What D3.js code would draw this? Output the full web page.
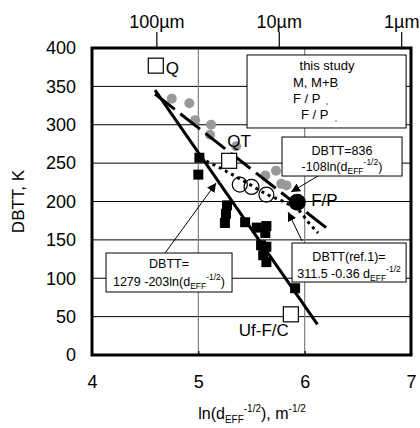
<!DOCTYPE html>
<html><head><meta charset="utf-8">
<script src="https://cdn.jsdelivr.net/npm/d3@7"></script>
<style>
body{margin:0;background:#fff;}
text{font-family:"Liberation Sans",Arial,sans-serif;fill:#000;}
</style></head>
<body><svg id="c" width="420" height="428"></svg>
<script>
// ---- data ----
const xTicks=[4,5,6,7];
const yTicks=[0,50,100,150,200,250,300,350,400];
const topTickLabels=["100\u00b5m","10\u00b5m","1\u00b5m"];
const topTickDiamM=[100e-6,10e-6,1e-6];
// this study M, M+B (gray circles)
const grayX=[4.75,4.915,4.97,5.12,5.11,5.355,5.63,5.73,5.78,5.83];
const grayY=[334,328,306,300,287,272,234,240,223,221];
// black squares
const sqX=[5.01,5.00,5.27,5.26,5.25,5.44,5.55,5.64,5.63,5.59,5.64,5.61,5.64,5.91];
const sqY=[257,235,195,184,172,173,166,168,159,143,141,130,121,87];
// open circles (F/P)
const openX=[5.39,5.50,5.64];
const openY=[222,219,209];
// F/P large black circle
const fpX=[5.93], fpY=[199];
// open squares with labels
const refNames=["Q","QT","Uf-F/C"];
const refX=[4.60,5.29,5.87];
const refY=[377,253,53];
// fitted line 1279-203ln (solid) endpoints
const solidX=[4.593,6.12], solidY=[345,40];
// fitted line 836-108ln (dashed) endpoints
const dashX=[4.593,6.22], dashY=[340,164];
// ref.1 curve (dotted)
const dotX=[5.016,5.2,5.486,5.656,5.80,5.90,5.957,6.03,6.126];
const dotY=[256.7,244,222,208.5,200,192,186.7,173.7,159];

const svg=d3.select("#c");
const x=d3.scaleLinear().domain([4,7]).range([92,411]);
const y=d3.scaleLinear().domain([0,400]).range([355,48]);

// gridlines
svg.append("g").selectAll("line").data(yTicks.filter(v=>v>0&&v<400)).join("line")
  .attr("x1",x(4)).attr("x2",x(7)).attr("y1",d=>y(d)).attr("y2",d=>y(d))
  .attr("stroke","#000").attr("stroke-width",1);
svg.append("g").selectAll("line").data([5,6]).join("line")
  .attr("x1",d=>x(d)).attr("x2",d=>x(d)).attr("y1",y(0)).attr("y2",y(400))
  .attr("stroke","#808080").attr("stroke-width",1.2);

// axes
const ax=svg.append("g").attr("transform",`translate(0,${y(0)})`)
  .call(d3.axisBottom(x).tickValues(xTicks).tickFormat(d3.format("d")).tickSize(-4).tickPadding(20));
const ay=svg.append("g").attr("transform",`translate(${x(4)},0)`)
  .call(d3.axisLeft(y).tickValues(yTicks).tickSize(0).tickPadding(16));
const topPos=topTickDiamM.map(d=>Math.log(Math.pow(d,-0.5)));
const at=svg.append("g").attr("transform",`translate(0,${y(400)})`)
  .call(d3.axisTop(x).tickValues(topPos).tickFormat((d,i)=>topTickLabels[i]).tickSize(16).tickPadding(4));
[ax,ay,at].forEach(g=>{
  g.select(".domain").remove();
  g.selectAll("text").attr("font-size",18).attr("font-family","Liberation Sans").attr("fill","#000");
  g.selectAll("line").attr("stroke","#000").attr("stroke-width",1.2);
});

// frame
svg.append("rect").attr("x",x(4)).attr("y",y(400)).attr("width",x(7)-x(4)).attr("height",y(0)-y(400))
  .attr("fill","none").attr("stroke","#000").attr("stroke-width",3);

// axis titles
svg.append("text").attr("transform",`translate(24,${(y(0)+y(400))/2}) rotate(-90)`)
  .attr("text-anchor","middle").attr("font-size",17).text("DBTT, K");
const xt=svg.append("text").attr("x",252).attr("y",419).attr("text-anchor","middle").attr("font-size",16);
xt.append("tspan").text("ln(d");
xt.append("tspan").attr("font-size",10).attr("dy",4).text("EFF");
xt.append("tspan").attr("font-size",10).attr("dy",-11).text("-1/2");
xt.append("tspan").attr("dy",7).text("), m");
xt.append("tspan").attr("font-size",10).attr("dy",-7).text("-1/2");

// gray circles
svg.append("g").selectAll("circle").data(grayX).join("circle")
  .attr("cx",d=>x(d)).attr("cy",(d,i)=>y(grayY[i])).attr("r",5).attr("fill","#999");

// lines
const line=d3.line().x(d=>x(d[0])).y(d=>y(d[1]));
svg.append("path").attr("d",line(solidX.map((d,i)=>[d,solidY[i]])))
  .attr("stroke","#000").attr("stroke-width",3).attr("fill","none");
svg.append("path").attr("d",line(dashX.map((d,i)=>[d,dashY[i]])))
  .attr("stroke","#000").attr("stroke-width",3).attr("fill","none").attr("stroke-dasharray","25,7");
const curve=d3.line().x(d=>x(d[0])).y(d=>y(d[1])).curve(d3.curveMonotoneX);
svg.append("path").attr("d",curve(dotX.map((d,i)=>[d,dotY[i]])))
  .attr("stroke","#000").attr("stroke-width",3).attr("fill","none").attr("stroke-dasharray","3,4");

// squares
svg.append("g").selectAll("rect").data(sqX).join("rect")
  .attr("x",d=>x(d)-5).attr("y",(d,i)=>y(sqY[i])-5).attr("width",10).attr("height",10).attr("fill","#000");
// open circles
svg.append("g").selectAll("circle").data(openX).join("circle")
  .attr("cx",d=>x(d)).attr("cy",(d,i)=>y(openY[i])).attr("r",7.5).attr("fill","none").attr("stroke","#000").attr("stroke-width",1.2);
// F/P
svg.append("g").selectAll("circle").data(fpX).join("circle")
  .attr("cx",d=>x(d)).attr("cy",(d,i)=>y(fpY[i])).attr("r",8.5).attr("fill","#000");
// open squares
svg.append("g").selectAll("rect").data(refX).join("rect")
  .attr("x",d=>x(d)-7.5).attr("y",(d,i)=>y(refY[i])-7.5).attr("width",15).attr("height",15)
  .attr("fill","#fff").attr("stroke","#000").attr("stroke-width",1.2);
// labels
const labOff=[[10,8],[-2,-14],[-52,22]];
svg.append("g").selectAll("text").data(refNames).join("text")
  .attr("x",(d,i)=>x(refX[i])+labOff[i][0]).attr("y",(d,i)=>y(refY[i])+labOff[i][1])
  .attr("font-size",17).text(d=>d);
svg.append("text").attr("x",x(fpX[0])+14).attr("y",y(fpY[0])+4).attr("font-size",17).text("F/P");

// arrows
const defs=svg.append("defs");
defs.append("marker").attr("id","ah").attr("viewBox","0 0 10 10").attr("refX",10).attr("refY",5)
  .attr("markerWidth",9).attr("markerHeight",9).attr("markerUnits","userSpaceOnUse").attr("orient","auto")
  .append("path").attr("d","M0,0L10,5L0,10z").attr("fill","#000");
const arrows=[[4.687,132.9,5.167,224.1],[6.126,233.2,5.872,212.4],[5.976,148.5,5.844,186.3]];
svg.append("g").selectAll("line").data(arrows).join("line")
  .attr("x1",d=>x(d[0])).attr("y1",d=>y(d[1])).attr("x2",d=>x(d[2])).attr("y2",d=>y(d[3]))
  .attr("stroke","#000").attr("stroke-width",1).attr("marker-end","url(#ah)");

// boxes
function box(x0,y0,x1,y1){
  return svg.append("rect").attr("x",x(x0)).attr("y",y(y0)).attr("width",x(x1)-x(x0)).attr("height",y(y1)-y(y0))
   .attr("fill","#fff").attr("stroke","#000").attr("stroke-width",1);
}
// legend
box(5.458,390.9,6.954,295.8);
const lg=svg.append("g").attr("font-size",13);
lg.append("text").attr("x",327).attr("y",70).attr("text-anchor","middle").attr("font-size",13).text("this study");
lg.append("text").attr("x",293).attr("y",87).attr("font-size",13).text("M, M+B");
lg.append("text").attr("x",293).attr("y",103).attr("font-size",13).text("F / P");
lg.append("text").attr("x",301).attr("y",119).attr("font-size",13).text("F / P");
lg.append("circle").attr("cx",338).attr("cy",89).attr("r",0.8).attr("fill","#999");
lg.append("circle").attr("cx",327).attr("cy",104).attr("r",0.8).attr("fill","#555");
lg.append("circle").attr("cx",336).attr("cy",121).attr("r",0.8).attr("fill","#555");

function subsup(t,cx,cy,pre,post,sup){
  const el=svg.append("text").attr("x",cx).attr("y",cy).attr("text-anchor","middle").attr("font-size",12.5);
  el.append("tspan").text(pre);
  el.append("tspan").attr("font-size",8.5).attr("dy",3).text("EFF");
  el.append("tspan").attr("font-size",8.5).attr("dy",-9).text(sup);
  if(post) el.append("tspan").attr("dy",6).text(post);
  return el;
}
// box2
box(5.787,284,6.916,233.2);
svg.append("text").attr("x",342).attr("y",155).attr("text-anchor","middle").attr("font-size",12.5).text("DBTT=836");
subsup(null,342,171,"-108ln(d",")","-1/2");
// box3
box(5.881,145.9,6.954,95.1);
svg.append("text").attr("x",349).attr("y",261).attr("text-anchor","middle").attr("font-size",12.5).text("DBTT(ref.1)=");
subsup(null,349,278,"311.5 -0.36 d",null,"-1/2");
// box4
box(4.132,132.9,5.317,82.1);
svg.append("text").attr("x",169).attr("y",268).attr("text-anchor","middle").attr("font-size",12.5).text("DBTT=");
subsup(null,169,286,"1279 -203ln(d",")","-1/2");
</script></body></html>
